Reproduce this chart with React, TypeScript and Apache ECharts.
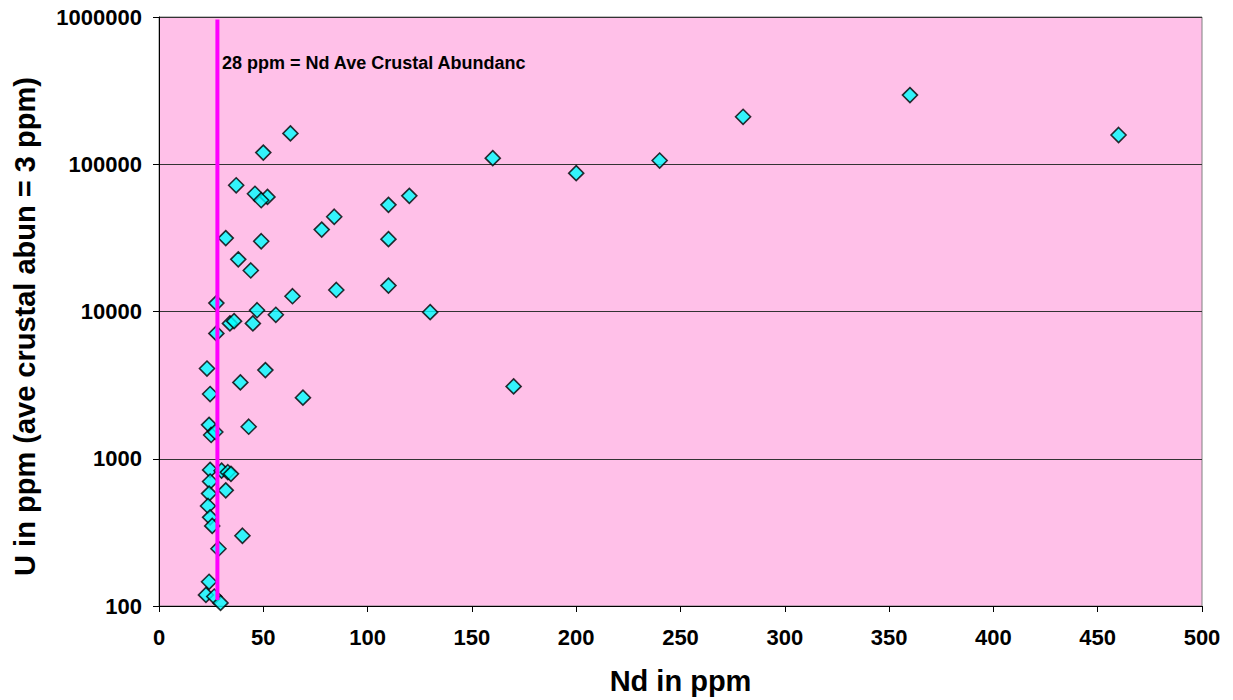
import React, { useEffect, useRef } from "react";
import * as echarts from "echarts";

const ndPpm: number[] = [
  63, 50, 37, 46, 52, 49, 110, 120, 84, 78,
  32, 49, 110, 38, 44, 64, 85, 110, 27.5, 47,
  56, 130, 34, 36, 45, 27.5, 23, 51, 39, 24.5,
  69, 160, 200, 240, 280, 360, 460, 170, 24, 25,
  27, 43, 24.5, 30, 33, 34.5, 24.5, 32, 24, 23.5,
  24.5, 25.5, 40, 28.5, 24, 22.5, 26.5, 29.5,
];
const uPpm: number[] = [
  162000, 120000, 72000, 63000, 60000, 57000, 53000, 61000, 44000, 36000,
  31500, 30000, 31000, 22600, 19000, 12700, 14000, 15000, 11400, 10200,
  9500, 9900, 8300, 8600, 8300, 7100, 4100, 4000, 3300, 2750,
  2600, 110000, 87000, 106000, 210000, 295000, 158000, 3100, 1700, 1450,
  1520, 1650, 840, 830, 810, 790, 700, 610, 580, 478,
  400, 350, 300, 245, 146, 119, 116, 105,
];
const crustalNd = 28;
const crustalLineU: number[] = [110, 960000];
const annotation = "28 ppm = Nd Ave Crustal Abundanc";
const xTitle = "Nd in ppm";
const yTitle = "U in ppm (ave crustal abun = 3 ppm)";

const FONT = "'Liberation Sans', Arial, sans-serif";

export default function App() {
  const ref = useRef<HTMLDivElement>(null);
  useEffect(() => {
    if (!ref.current) return;
    const chart = echarts.init(ref.current, null, { renderer: "svg" });
    const points = ndPpm.map((x, i) => [x, uPpm[i]]);
    chart.setOption({
      animation: false,
      backgroundColor: "#ffffff",
      grid: {
        left: 159,
        top: 17,
        right: 31,
        bottom: 94,
        show: true,
        backgroundColor: "#FFC0E8",
        borderColor: "#808080",
        borderWidth: 1,
      },
      xAxis: {
        type: "value",
        min: 0,
        max: 500,
        interval: 50,
        name: xTitle,
        nameLocation: "middle",
        nameGap: 60,
        nameTextStyle: { fontFamily: FONT, fontWeight: "bold", fontSize: 29, color: "#000" },
        axisLine: { show: true, onZero: false, lineStyle: { color: "#000", width: 1 } },
        axisTick: { show: true, inside: false, length: 6, lineStyle: { color: "#000" } },
        axisLabel: { fontFamily: FONT, fontWeight: "bold", fontSize: 22, color: "#000", margin: 20 },
        splitLine: { show: false },
      },
      yAxis: {
        type: "log",
        logBase: 10,
        min: 100,
        max: 1000000,
        name: yTitle,
        nameLocation: "middle",
        nameGap: 120,
        nameTextStyle: {
          fontFamily: FONT,
          fontWeight: "bold",
          fontSize: 29,
          color: "#000",
          padding: [0, 30, 0, 0],
        },
        axisLine: { show: true, lineStyle: { color: "#000", width: 1 } },
        axisTick: { show: true, inside: false, length: 6, lineStyle: { color: "#000" } },
        axisLabel: {
          fontFamily: FONT,
          fontWeight: "bold",
          fontSize: 22,
          color: "#000",
          margin: 17,
          formatter: (v: number) => String(Math.round(v)),
        },
        splitLine: { show: true, lineStyle: { color: "#333", width: 1 } },
        minorTick: { show: false },
      },
      series: [
        {
          type: "line",
          data: crustalLineU.map((u) => [crustalNd, u]),
          symbol: "none",
          lineStyle: { color: "#FF00FF", width: 4 },
          z: 3,
        },
        {
          type: "scatter",
          data: points,
          symbol: "diamond",
          symbolSize: 15,
          itemStyle: { color: "#00FFFF", borderColor: "#000", borderWidth: 1.6 },
          z: 2,
        },
      ],
      graphic: [
        {
          type: "text",
          left: 222,
          top: 54,
          style: {
            text: annotation,
            fontFamily: FONT,
            fontWeight: "bold",
            fontSize: 18,
            fill: "#000",
          },
          z: 10,
        },
      ],
    });
    return () => chart.dispose();
  }, []);
  return <div ref={ref} style={{ width: 1233, height: 700, position: "absolute", left: 0, top: 0 }} />;
}
